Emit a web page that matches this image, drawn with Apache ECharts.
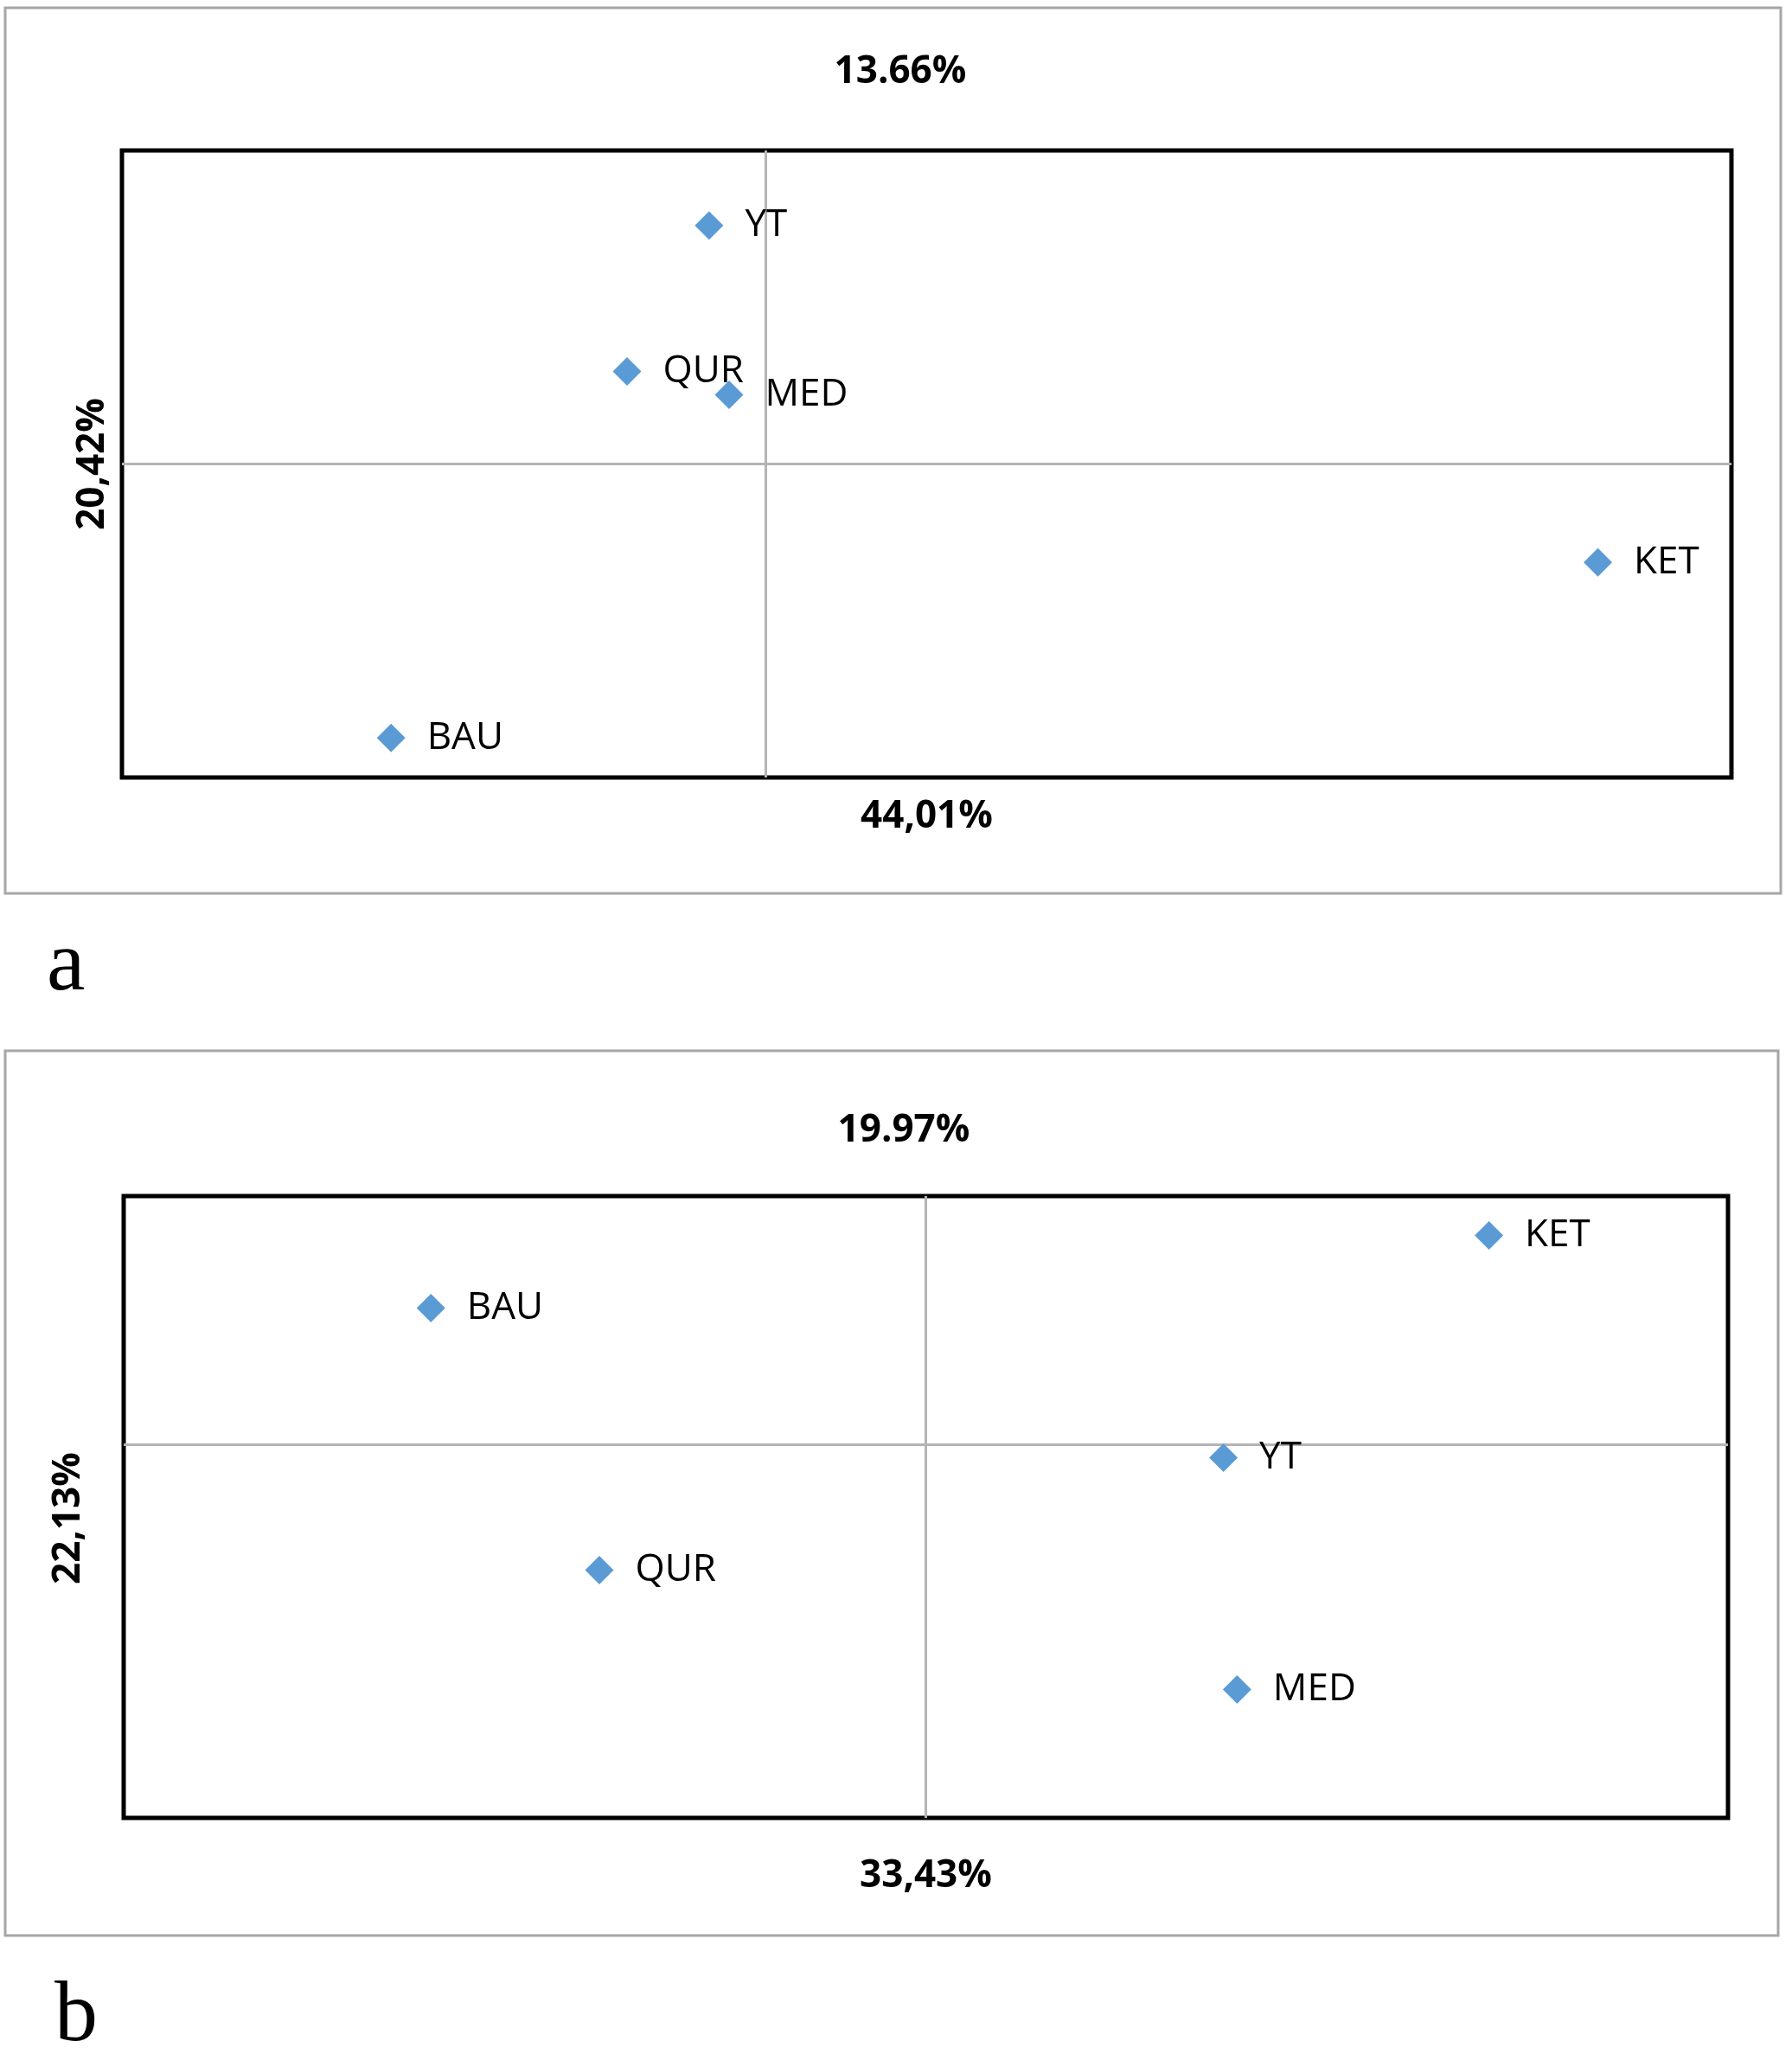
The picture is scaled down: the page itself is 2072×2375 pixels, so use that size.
<!DOCTYPE html>
<html>
<head>
<meta charset="utf-8">
<title>biplot</title>
<script src="https://cdn.jsdelivr.net/npm/echarts@6/dist/echarts.min.js"></script>
<style>
    body { margin: 0; background: #fff; }
    #main { width: 2072px; height: 2375px; }
</style>
</head>
<body>
<div id="main"></div>
<script>
// panel a
var namesA = ['YT', 'QUR', 'MED', 'KET', 'BAU']
var xA = [-0.176, -0.431, -0.114, 2.585, -1.164]
var yA = [0.761, 0.295, 0.221, -0.314, -0.874]
var rangeXA = [-2, 3]
var rangeYA = [-1, 1]
var topA = '13.66%'
var bottomA = '44,01%'
var leftA = '20,42%'

// panel b
var namesB = ['KET', 'BAU', 'YT', 'QUR', 'MED']
var xB = [0.702, -0.617, 0.371, -0.407, 0.388]
var yB = [1.683, 1.099, -0.104, -1.008, -1.968]
var rangeXB = [-1, 1]
var rangeYB = [-3, 2]
var topB = '19.97%'
var bottomB = '33,43%'
var leftB = '22,13%'

var blue = '#5b9bd5'
var pctFont = {color: '#000', fontFamily: 'Open Sans', fontWeight: 'bold', fontSize: 44}

var points = (names, xs, ys) => {
    var result = []
    for (var i = 0; i < names.length; i++) {
        result.push({name: names[i], value: [xs[i], ys[i]]})
    }
    return result
}

var axis = (grid, range, name, gap, pad) => {
    return {
        gridIndex: grid,
        type: 'value',
        min: range[0],
        max: range[1],
        axisLine: {show: false},
        axisTick: {show: false},
        axisLabel: {show: false},
        splitLine: {show: false},
        name: name,
        nameLocation: 'middle',
        nameGap: gap,
        nameTextStyle: Object.assign({padding: pad || 0}, pctFont),
    }
}

var series = (index, data) => {
    return {
        type: 'scatter',
        xAxisIndex: index,
        yAxisIndex: index,
        symbol: 'diamond',
        symbolSize: 33,
        itemStyle: {color: blue, opacity: 1},
        label: {
            show: true,
            position: 'right',
            distance: 25,
            formatter: '{b}',
            color: '#000',
            fontFamily: 'Open Sans',
            fontSize: 44,
        },
        data: data,
        markLine: {
            silent: true,
            symbol: 'none',
            label: {show: false},
            lineStyle: {color: '#b4b4b4', width: 3, type: 'solid'},
            data: [{xAxis: 0}, {yAxis: 0}],
            z: 1,
        },
    }
}

var frame = (x, y, w, h) => {
    return {
        type: 'rect',
        shape: {x: x, y: y, width: w, height: h},
        style: {fill: 'none', stroke: '#a6a6a6', lineWidth: 3},
        silent: true,
    }
}

var text = (x, y, s, style) => {
    return {
        type: 'text',
        x: x,
        y: y,
        style: Object.assign({text: s}, style),
        silent: true,
    }
}

var __main = () => {
    var myChart = echarts.init(document.querySelector('#main'))
    var letter = {fontFamily: 'Liberation Serif', fontSize: 100, fill: '#000', verticalAlign: 'middle'}
    var head = {fontFamily: 'Open Sans', fontWeight: 'bold', fontSize: 44, fill: '#000', align: 'center', verticalAlign: 'middle'}
    myChart.setOption({
        animation: false,
        backgroundColor: '#fff',
        grid: [
            {left: 141, top: 174, width: 1861, height: 725, show: true, borderColor: '#000', borderWidth: 5},
            {left: 143, top: 1383, width: 1855, height: 719, show: true, borderColor: '#000', borderWidth: 5},
        ],
        xAxis: [
            axis(0, rangeXA, bottomA, 23),
            axis(1, rangeXB, bottomB, 45),
        ],
        yAxis: [
            axis(0, rangeYA, leftA, 12),
            axis(1, rangeYB, leftB, 42, [0, 26, 0, 0]),
        ],
        series: [
            series(0, points(namesA, xA, yA)),
            series(1, points(namesB, xB, yB)),
        ],
        graphic: [
            frame(6, 9, 2053, 1024),
            frame(6, 1215, 2050, 1023),
            text(1041, 83, topA, head),
            text(1045, 1307, topB, head),
            text(54, 1118, 'a', letter),
            text(63, 2333, 'b', letter),
        ],
    })
}

__main()
</script>
</body>
</html>
